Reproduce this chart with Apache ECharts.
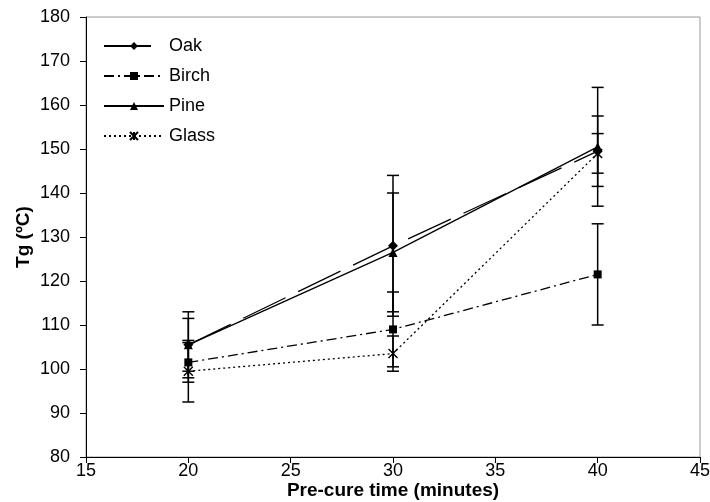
<!DOCTYPE html>
<html>
<head>
<meta charset="utf-8">
<script src="https://cdn.jsdelivr.net/npm/echarts@6/dist/echarts.min.js"></script>
<style>
  html, body { margin: 0; padding: 0; background: #fff; }
  #chart { width: 710px; height: 502px; }
</style>
</head>
<body>
<div id="chart"></div>
<script>
// pre-cure time (minutes)
const times = [20, 30, 40];
// Tg means and error (+/-) per species
const oak = [105.5, 128, 149.5];
const oakErr = [6, 16, 8];
const birch = [101.5, 109, 121.5];
const birchErr = [4.5, 8.5, 11.5];
const pine = [105.5, 126.5, 150.5];
const pineErr = [7.5, 13.5, 13.5];
const glass = [99.5, 103.5, 149];
const glassErr = [7, 4, 4.5];

const xTicks = [15, 45, 5];
const yTicks = [80, 180, 10];

const FONT = '"Liberation Sans", Arial, sans-serif';
const chart = echarts.init(document.getElementById('chart'));

function pts(vals) {
  return times.map((t, i) => [t, vals[i]]);
}
function errPts(vals, errs) {
  return times.map((t, i) => [t, vals[i] - errs[i], vals[i] + errs[i]]);
}

// draws one vertical bar with two caps
function errRender(params, api) {
  const x = api.value(0);
  const lo = api.coord([x, api.value(1)]);
  const hi = api.coord([x, api.value(2)]);
  const w = 6;
  const st = { stroke: '#000', lineWidth: 1.5 };
  return {
    type: 'group',
    children: [
      { type: 'line', shape: { x1: hi[0], y1: hi[1], x2: lo[0], y2: lo[1] }, style: st },
      { type: 'line', shape: { x1: hi[0] - w, y1: hi[1], x2: hi[0] + w, y2: hi[1] }, style: st },
      { type: 'line', shape: { x1: lo[0] - w, y1: lo[1], x2: lo[0] + w, y2: lo[1] }, style: st }
    ]
  };
}

function errSeries(name, vals, errs) {
  return {
    name: name,
    type: 'custom',
    renderItem: errRender,
    encode: { x: 0, y: [1, 2] },
    data: errPts(vals, errs),
    silent: true,
    z: 1
  };
}

function lineSeries(name, vals, symbol, size, dash) {
  return {
    name: name,
    type: 'line',
    data: pts(vals),
    symbol: symbol,
    symbolSize: size,
    showSymbol: true,
    itemStyle: { color: '#000' },
    lineStyle: { color: '#000', width: 1.3, type: dash },
    z: 3
  };
}

const glassSeries = lineSeries('Glass', glass, 'path://M0 0L10 10M10 0L0 10M5 0L5 10', 9, [2, 3]);
glassSeries.itemStyle = { color: 'transparent', borderColor: '#000', borderWidth: 1.4 };

const option = {
  animation: false,
  backgroundColor: '#fff',
  textStyle: { fontFamily: FONT },
  grid: {
    left: 86, right: 10, top: 17, bottom: 45,
    containLabel: false,
    outerBoundsMode: 'none',
    show: true, borderColor: '#999', borderWidth: 1
  },
  legend: {
    data: ['Oak', 'Birch', 'Pine', 'Glass'],
    orient: 'vertical',
    left: 98,
    top: 32,
    itemWidth: 60,
    itemHeight: 10,
    itemGap: 12,
    textStyle: { fontFamily: FONT, fontSize: 18, color: '#000' }
  },
  xAxis: {
    type: 'value',
    min: xTicks[0], max: xTicks[1], interval: xTicks[2],
    name: 'Pre-cure time (minutes)',
    nameLocation: 'middle',
    nameGap: 24,
    nameMoveOverlap: false,
    nameTextStyle: { fontFamily: FONT, fontSize: 19, fontWeight: 'bold', color: '#000' },
    axisLine: { lineStyle: { color: '#000', width: 1 } },
    axisTick: { inside: false, length: 6, lineStyle: { color: '#000' } },
    axisLabel: { fontFamily: FONT, fontSize: 18, color: '#000', margin: 5 },
    splitLine: { show: false }
  },
  yAxis: {
    type: 'value',
    min: yTicks[0], max: yTicks[1], interval: yTicks[2],
    name: 'Tg (ºC)',
    nameLocation: 'middle',
    nameGap: 53,
    nameRotate: 90,
    nameMoveOverlap: false,
    nameTextStyle: { fontFamily: FONT, fontSize: 19, fontWeight: 'bold', color: '#000' },
    axisLine: { show: true, lineStyle: { color: '#000', width: 1 } },
    axisTick: { show: true, inside: false, length: 6, lineStyle: { color: '#000' } },
    axisLabel: { fontFamily: FONT, fontSize: 18, color: '#000', margin: 16 },
    splitLine: { show: false }
  },
  series: [
    errSeries('oakErr', oak, oakErr),
    errSeries('birchErr', birch, birchErr),
    errSeries('pineErr', pine, pineErr),
    errSeries('glassErr', glass, glassErr),
    lineSeries('Oak', oak, 'diamond', 10, [47, 14]),
    lineSeries('Birch', birch, 'rect', 8, [10, 4, 2, 4]),
    lineSeries('Pine', pine, 'triangle', 9, 'solid'),
    glassSeries
  ]
};

chart.setOption(option);
</script>
</body>
</html>
